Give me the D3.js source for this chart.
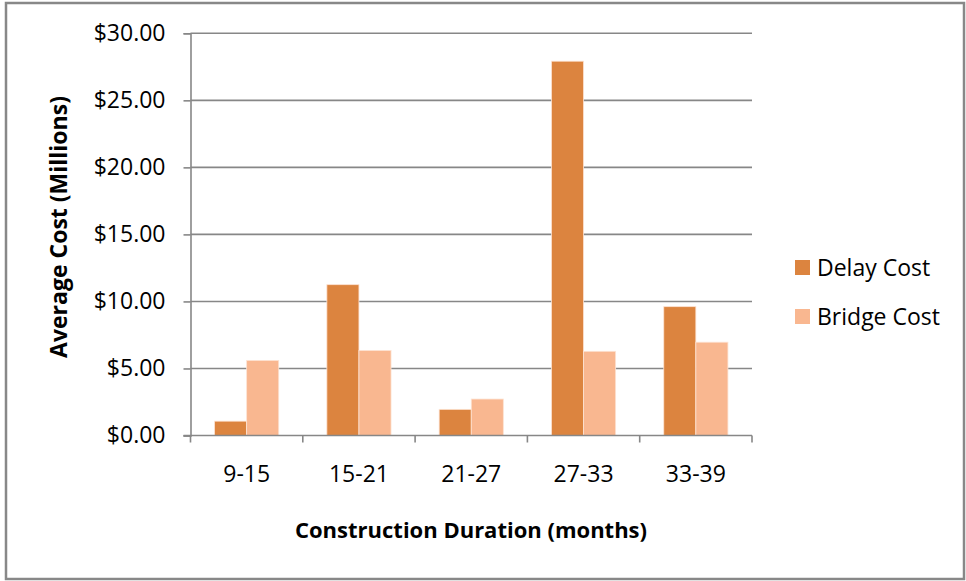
<!DOCTYPE html>
<html><head><meta charset="utf-8">
<script src="https://cdn.jsdelivr.net/npm/d3@7"></script>
<style>body{margin:0;background:#fff}svg{display:block}text{font-family:"Open Sans",sans-serif;fill:#000}</style>
</head><body>
<svg id="c" width="966" height="581"></svg>
<script>
const categories = ["9-15","15-21","21-27","27-33","33-39"];
const seriesNames = ["Delay Cost","Bridge Cost"];
const delayCost = [1.07, 11.25, 1.95, 27.92, 9.61];
const bridgeCost = [5.6, 6.34, 2.72, 6.28, 6.96];
const yTicks = [0,5,10,15,20,25,30];
const colors = ["#DC843F","#F9B790"];
const seriesValues = [delayCost, bridgeCost];

const svg = d3.select("#c");
const plotLeft = 190.5, plotRight = 752, plotTop = 33.3, plotBottom = 435.5;

svg.append("rect").attr("x",6).attr("y",3).attr("width",958).attr("height",576)
  .attr("fill","#fff").attr("stroke","#888").attr("stroke-width",2.5);

const x0 = d3.scaleBand().domain(categories).range([plotLeft,plotRight]).padding(0);
const x1 = d3.scaleBand().domain(seriesNames).range([0,x0.bandwidth()]).paddingInner(0).paddingOuter(0.75);
const y = d3.scaleLinear().domain([0,30]).range([plotBottom,plotTop]);

// gridlines
svg.append("g").selectAll("line").data(yTicks.filter(d=>d>0)).join("line")
  .attr("x1",plotLeft).attr("x2",plotRight).attr("y1",d=>y(d)).attr("y2",d=>y(d))
  .attr("stroke","#878787").attr("stroke-width",1.6);

// y axis
const yAxis = d3.axisLeft(y).tickValues(yTicks).tickSize(7).tickPadding(18)
  .tickFormat(d=>"$"+d.toFixed(2));
const gy = svg.append("g").attr("transform",`translate(${plotLeft},0)`).call(yAxis);
gy.select(".domain").attr("stroke","#878787").attr("stroke-width",1.6);
gy.selectAll(".tick line").attr("stroke","#878787").attr("stroke-width",1.6);
gy.selectAll(".tick text").style("font-size","23px").attr("font-family","Open Sans").attr("fill","#000");

// bars
const data = categories.map((c,i)=>({c, vals: seriesNames.map((s,j)=>({s, v: seriesValues[j][i], j}))}));
svg.append("g").selectAll("g").data(data).join("g")
  .attr("transform",d=>`translate(${x0(d.c)},0)`)
  .selectAll("rect").data(d=>d.vals).join("rect")
  .attr("x",d=>x1(d.s)).attr("width",x1.bandwidth())
  .attr("y",d=>y(d.v)).attr("height",d=>y(0)-y(d.v))
  .attr("fill",d=>colors[d.j]).attr("stroke","#fde3d3").attr("stroke-width",0.8);

// x axis
const xTickPos = d3.scalePoint().domain(d3.range(categories.length+1)).range([plotLeft,plotRight]);
const gx = svg.append("g").attr("transform",`translate(0,${plotBottom})`);
gx.append("line").attr("x1",plotLeft-7).attr("x2",plotRight).attr("stroke","#878787").attr("stroke-width",1.6);
gx.selectAll("line.t").data(d3.range(categories.length+1)).join("line").attr("class","t")
  .attr("x1",d=>xTickPos(d)).attr("x2",d=>xTickPos(d)).attr("y1",0).attr("y2",7)
  .attr("stroke","#878787").attr("stroke-width",1.6);
const xAxis = d3.axisBottom(x0).tickSize(0).tickPadding(30);
const gxl = svg.append("g").attr("transform",`translate(0,${plotBottom})`).call(xAxis);
gxl.select(".domain").remove();
gxl.selectAll(".tick text").style("font-size","23px").attr("font-family","Open Sans").attr("fill","#000");

// axis titles
svg.append("text").attr("x",471).attr("y",538).attr("text-anchor","middle")
  .style("font-size","22px").style("font-weight","bold").text("Construction Duration (months)");
svg.append("text").attr("transform","translate(67,227) rotate(-90)").attr("text-anchor","middle")
  .style("font-size","23px").style("font-weight","bold").text("Average Cost (Millions)");

// legend
const lg = svg.append("g").selectAll("g").data(seriesNames).join("g")
  .attr("transform",(d,i)=>`translate(795,${260+i*49})`);
lg.append("rect").attr("width",15).attr("height",15).attr("fill",(d,i)=>colors[i]);
lg.append("text").attr("x",22).attr("y",16).style("font-size","23px").text(d=>d);
</script>
</body></html>
